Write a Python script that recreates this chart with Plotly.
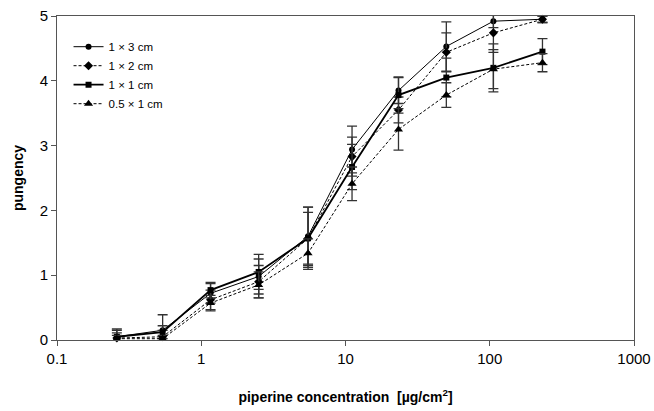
import plotly.graph_objects as go

conc = [0.26, 0.54, 1.16, 2.5, 5.5, 11.1, 23.3, 50, 106, 232]

names = ["1 × 3 cm", "1 × 2 cm", "1 × 1 cm", "0.5 × 1 cm"]
y_1x3 = [0.05, 0.15, 0.72, 0.98, 1.60, 2.94, 3.85, 4.53, 4.92, 4.95]
y_1x2 = [0.03, 0.05, 0.62, 0.90, 1.57, 2.83, 3.55, 4.44, 4.74, 4.95]
y_1x1 = [0.05, 0.12, 0.77, 1.05, 1.57, 2.67, 3.78, 4.05, 4.20, 4.45]
y_05x1 = [0.02, 0.02, 0.57, 0.85, 1.34, 2.41, 3.25, 3.78, 4.18, 4.28]

e_1x3 = [0.12, 0.24, 0.15, 0.27, 0.45, 0.36, 0.20, 0.38, 0.10, 0.05]
e_1x2 = [0.08, 0.10, 0.15, 0.25, 0.40, 0.30, 0.20, 0.30, 0.30, 0.05]
e_1x1 = [0.10, 0.10, 0.12, 0.27, 0.48, 0.35, 0.28, 0.30, 0.37, 0.20]
e_05x1 = [0.05, 0.05, 0.12, 0.20, 0.22, 0.26, 0.32, 0.19, 0.30, 0.14]

x_tickvals = [0.1, 1, 10, 100, 1000]
x_ticktext = ["0.1", "1", "10", "100", "1000"]
y_tickvals = [0, 1, 2, 3, 4, 5]

series = [
    (names[0], y_1x3, e_1x3, "circle", 6, "solid", 1),
    (names[1], y_1x2, e_1x2, "diamond", 7, "3px,2px", 1),
    (names[2], y_1x1, e_1x1, "square", 6, "solid", 1.8),
    (names[3], y_05x1, e_05x1, "triangle-up", 8, "3px,2px", 1),
]

fig = go.Figure()
for name, ys, es, sym, size, dash, lw in series:
    fig.add_trace(go.Scatter(
        x=conc, y=ys, name=name, mode="lines+markers",
        line=dict(color="black", width=lw, dash=dash),
        marker=dict(symbol=sym, size=size, color="black"),
        error_y=dict(type="data", array=es, visible=True,
                     color="#333", thickness=1.3, width=5),
        cliponaxis=False,
    ))

font_family = "Liberation Sans, Arial, sans-serif"
fig.update_layout(
    width=654, height=411,
    margin=dict(l=57, r=20, t=16, b=71),
    paper_bgcolor="white", plot_bgcolor="white",
    font=dict(family=font_family, color="black", size=15),
    showlegend=True,
    legend=dict(x=0.02, y=0.95, xanchor="left", yanchor="top",
                font=dict(size=11.5, family=font_family),
                bgcolor="rgba(0,0,0,0)", tracegroupgap=0, itemwidth=30),
    xaxis=dict(type="log", range=[-1, 3], tickvals=x_tickvals, ticktext=x_ticktext,
               automargin=False,
               showgrid=False, zeroline=False, showline=True, linecolor="#555",
               linewidth=1, mirror=True, ticks="outside", ticklen=5, tickcolor="#555",
               tickfont=dict(size=15),
               title=dict(text="<b>piperine concentration  [µg/cm<sup>2</sup>]</b>",
                          font=dict(size=14), standoff=26)),
    yaxis=dict(range=[0, 5], tickvals=y_tickvals, showgrid=False, zeroline=False,
               automargin=False,
               showline=True, linecolor="#555", linewidth=1, mirror=True,
               ticks="outside", ticklen=5, tickcolor="#555",
               tickfont=dict(size=15),
               title=dict(text="<b>pungency</b>", font=dict(size=14), standoff=12)),
)

fig.write_html("out.html", config={"displayModeBar": False},
               post_script="document.body.style.margin='0';document.body.style.overflow='hidden';")
